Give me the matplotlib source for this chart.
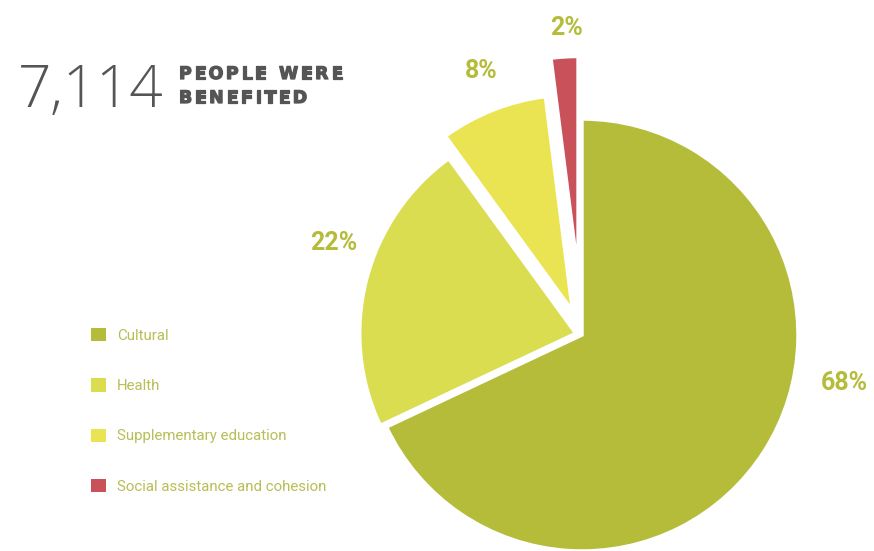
import matplotlib.pyplot as plt
import matplotlib.patheffects as pe
from matplotlib.patches import Patch

# share of beneficiaries by programme area (%)
categories = ["Cultural", "Health", "Supplementary education", "Social assistance and cohesion"]
shares = [68, 22, 8, 2]
colors = ["#B5BC3A", "#DADD50", "#EAE453", "#C9525A"]
explode = [0.0, 0.03, 0.12, 0.29]
total_people = "7,114"
headline = ["PEOPLE WERE", "BENEFITED"]

label_color = "#B5BC3A"
grey = "#555555"

W, H = 874, 551
fig = plt.figure(figsize=(W / 100, H / 100), dpi=100)
renderer = fig.canvas.get_renderer()


def tracked_text(x, y, s, tracking, **kw):
    # draw a string letter by letter (pixel coords, y from top) with extra spacing
    for ch in s:
        t = fig.text(x / W, 1 - y / H, ch, ha="left", va="baseline", **kw)
        if ch == " ":
            t2 = fig.text(0, 0, "n", **kw)
            w = t2.get_window_extent(renderer).width * 0.6
            t2.remove()
        else:
            w = t.get_window_extent(renderer).width
        x += w + tracking


# pie axes sized so that radius 1 -> 216 px, centred at (582, 335) px from top-left
R = 216
L = 1.4
side = 2 * L * R
cx, cy = 582, 335
ax = fig.add_axes([(cx - side / 2) / W, (H - cy - side / 2) / H, side / W, side / H])
wedges, _ = ax.pie(shares, colors=colors, explode=explode, startangle=90,
                   counterclock=False, radius=1,
                   wedgeprops=dict(edgecolor="white", linewidth=2.5))
ax.set_xlim(-L, L)
ax.set_ylim(-L, L)
ax.set_aspect("equal")
ax.axis("off")

# percentage labels
pct_pos = [(844, 383), (334, 243), (481, 71), (567, 28)]
for v, (px, py) in zip(shares, pct_pos):
    fig.text(px / W, 1 - py / H, f"{v}%", ha="center", va="center",
             fontsize=18, fontweight="bold", color=label_color, family="Roboto")

# headline
fig.text(18 / W, 1 - 107 / H, total_people, ha="left", va="baseline",
         fontsize=42, fontweight="light", color=grey, family="Open Sans")
heavy = [pe.withStroke(linewidth=0.9, foreground=grey)]
tracked_text(179, 79, headline[0], 2.5, fontsize=12.5, fontweight="bold",
             color=grey, family="DejaVu Sans", path_effects=heavy)
tracked_text(179, 103, headline[1], 2.5, fontsize=12.5, fontweight="bold",
             color=grey, family="DejaVu Sans", path_effects=heavy)

handles = [Patch(facecolor=c, edgecolor="none") for c in colors]
leg = fig.legend(handles, categories, loc="upper left",
                 bbox_to_anchor=(91 / W, 1 - 328 / H), frameon=False,
                 borderpad=0, borderaxespad=0,
                 labelspacing=2.36, handlelength=1.0, handleheight=1.0,
                 handletextpad=0.75, prop=dict(family="Roboto", size=10.8))
for t in leg.get_texts():
    t.set_color("#B8BE55")

fig.savefig("out.png", dpi=100)
